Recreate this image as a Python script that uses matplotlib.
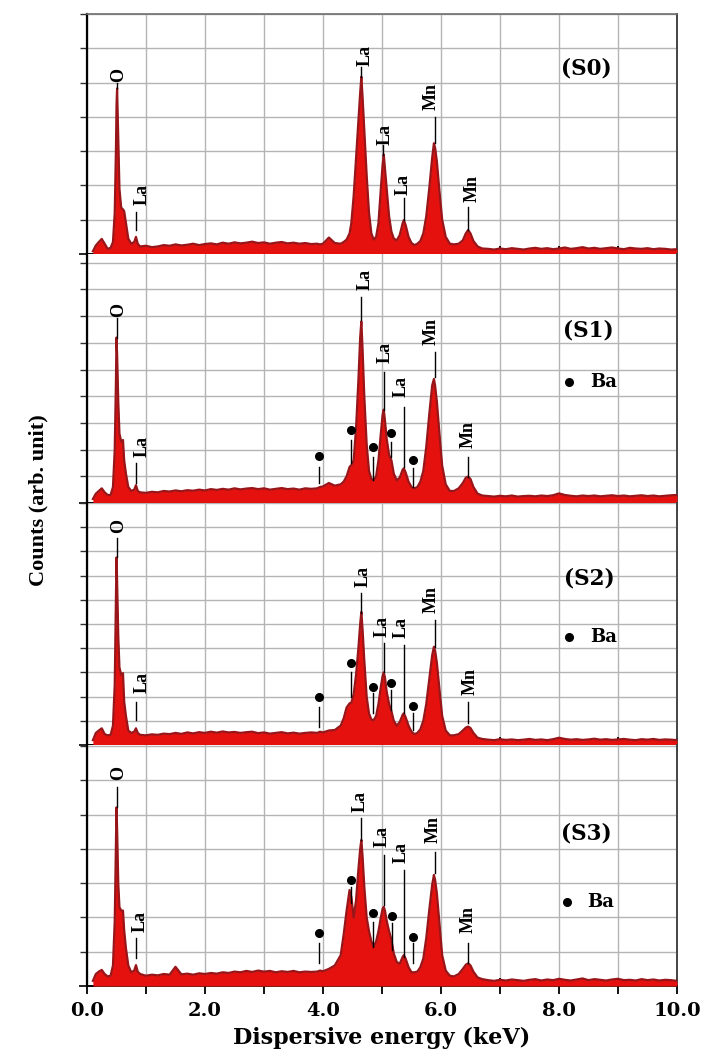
import matplotlib
matplotlib.use("Agg")
import matplotlib.pyplot as plt
from matplotlib.ticker import FixedLocator, FixedFormatter, NullFormatter

# ---------------- data ----------------
energy_keV = [
    0.10, 0.15, 0.20, 0.25, 0.30, 0.35, 0.40, 0.44, 0.47, 0.49, 0.50, 0.51,
    0.53, 0.55, 0.58, 0.61, 0.63, 0.66, 0.70, 0.75, 0.80, 0.83, 0.86, 0.90,
    1.0, 1.1, 1.2, 1.3, 1.4, 1.5, 1.6, 1.7, 1.8, 1.9, 2.0, 2.1, 2.2, 2.3, 2.4,
    2.5, 2.6, 2.7, 2.8, 2.9, 3.0, 3.1, 3.2, 3.3, 3.4, 3.5, 3.6, 3.7, 3.8,
    3.9, 3.95, 4.0, 4.1, 4.2, 4.3,
    4.35, 4.40, 4.45, 4.48, 4.52, 4.56, 4.60, 4.63, 4.65, 4.67,
    4.70, 4.74, 4.78, 4.82, 4.86, 4.90, 4.94, 4.98, 5.01, 5.03,
    5.05, 5.08, 5.12, 5.16, 5.20, 5.25, 5.30, 5.35, 5.37, 5.40,
    5.45, 5.50, 5.55, 5.60, 5.65, 5.70, 5.75, 5.80, 5.85, 5.88,
    5.90, 5.93, 5.97, 6.02, 6.08, 6.15, 6.22, 6.30, 6.37, 6.42,
    6.46, 6.50, 6.55, 6.62, 6.70,
    6.8, 6.9, 7.0, 7.1, 7.2, 7.3, 7.4, 7.5, 7.6, 7.7, 7.8, 7.9, 8.0, 8.1,
    8.2, 8.3, 8.4, 8.5, 8.6, 8.7, 8.8, 8.9, 9.0, 9.1, 9.2, 9.3, 9.4, 9.5,
    9.6, 9.7, 9.8, 9.9, 10.0,
]

counts_S0 = [
    0.08, 0.25, 0.35, 0.44, 0.30, 0.15, 0.18, 0.35, 1.20, 3.00, 4.30, 4.83,
    3.40, 1.90, 1.35, 1.30, 1.25, 0.90, 0.45, 0.30, 0.35, 0.50, 0.30, 0.22,
    0.24, 0.20, 0.22, 0.26, 0.24, 0.28, 0.25, 0.27, 0.30, 0.26, 0.29, 0.31, 0.28,
    0.33, 0.30, 0.34, 0.31, 0.33, 0.36, 0.32, 0.34, 0.30, 0.33, 0.35, 0.31, 0.33,
    0.30, 0.32, 0.29,
    0.30, 0.28, 0.30, 0.48, 0.32, 0.30,
    0.35, 0.42, 0.60, 0.90, 1.70, 2.80, 3.90, 4.70, 5.17, 4.60,
    3.60, 2.30, 1.20, 0.60, 0.42, 0.50, 0.90, 1.90, 2.60, 2.90,
    2.50, 1.90, 1.10, 0.65, 0.45, 0.40, 0.55, 0.90, 0.99, 0.85,
    0.50, 0.32, 0.26, 0.30, 0.38, 0.60, 1.10, 1.90, 2.80, 3.23,
    3.10, 2.70, 1.90, 1.00, 0.50, 0.30, 0.28, 0.30, 0.40, 0.60,
    0.70, 0.60, 0.38, 0.22, 0.16,
    0.15, 0.13, 0.16, 0.14, 0.17, 0.15, 0.13, 0.16, 0.18, 0.15, 0.17, 0.14,
    0.16, 0.19, 0.15, 0.17, 0.20, 0.16, 0.18, 0.15, 0.17, 0.19, 0.16, 0.14,
    0.18, 0.16, 0.15, 0.17, 0.14, 0.16, 0.15, 0.13, 0.14,
]

counts_S1 = [
    0.15, 0.35, 0.45, 0.55, 0.40, 0.30, 0.30, 0.60, 2.00, 4.50, 6.20, 5.60,
    3.80, 2.60, 2.30, 2.36, 1.60, 1.10, 0.60, 0.45, 0.50, 0.67, 0.45, 0.40,
    0.38, 0.42, 0.40, 0.45, 0.43, 0.47, 0.44, 0.48, 0.46, 0.50, 0.47, 0.52, 0.49,
    0.53, 0.50, 0.55, 0.51, 0.54, 0.56, 0.52, 0.55, 0.50, 0.53, 0.56, 0.52, 0.54,
    0.50, 0.55, 0.53,
    0.55, 0.60, 0.62, 0.75, 0.65, 0.70,
    0.80, 1.00, 1.35, 1.42, 1.60, 2.80, 4.60, 6.20, 6.80, 5.80,
    4.00, 2.20, 1.20, 0.90, 0.86, 1.00, 1.60, 2.60, 3.30, 3.50,
    3.10, 2.40, 1.80, 1.60, 1.10, 0.85, 0.95, 1.25, 1.30, 1.15,
    0.80, 0.60, 0.55, 0.60, 0.80, 1.20, 2.10, 3.30, 4.40, 4.65,
    4.40, 3.80, 2.70, 1.40, 0.70, 0.45, 0.45, 0.55, 0.75, 0.95,
    0.99, 0.90, 0.60, 0.35, 0.28,
    0.26, 0.24, 0.27, 0.25, 0.28, 0.24, 0.26, 0.27, 0.25, 0.28, 0.26, 0.29,
    0.36, 0.30, 0.27, 0.25, 0.28, 0.26, 0.28, 0.25, 0.27, 0.29, 0.26, 0.28,
    0.25, 0.27, 0.29, 0.26, 0.28, 0.25, 0.27, 0.29, 0.30,
]

counts_S2 = [
    0.20, 0.50, 0.60, 0.69, 0.45, 0.40, 0.42, 0.80, 2.50, 5.80, 7.75, 6.80,
    4.50, 3.20, 2.90, 2.97, 1.80, 1.20, 0.60, 0.50, 0.55, 0.69, 0.50, 0.42,
    0.40, 0.44, 0.42, 0.47, 0.45, 0.50, 0.46, 0.52, 0.48, 0.53, 0.50, 0.55, 0.51,
    0.56, 0.52, 0.54, 0.50, 0.53, 0.55, 0.49, 0.52, 0.47, 0.50, 0.53, 0.48, 0.51,
    0.47, 0.50, 0.52,
    0.50, 0.55, 0.52, 0.60, 0.62, 0.80,
    1.10, 1.55, 1.72, 1.75, 2.10, 2.90, 4.00, 5.00, 5.50, 4.80,
    3.50, 2.00, 1.30, 1.05, 1.03, 1.20, 1.70, 2.40, 2.85, 3.00,
    2.80, 2.20, 1.70, 1.40, 1.00, 0.80, 0.95, 1.25, 1.31, 1.15,
    0.80, 0.55, 0.45, 0.50, 0.65, 1.00, 1.70, 2.70, 3.70, 4.06,
    3.90, 3.40, 2.40, 1.20, 0.60, 0.40, 0.40, 0.45, 0.60, 0.72,
    0.76, 0.70, 0.50, 0.30, 0.25,
    0.22, 0.20, 0.24, 0.21, 0.23, 0.20, 0.22, 0.25, 0.21, 0.23, 0.20, 0.24,
    0.30, 0.25, 0.22, 0.24, 0.21, 0.23, 0.26, 0.22, 0.24, 0.21, 0.23, 0.25,
    0.22, 0.20, 0.24, 0.22, 0.25, 0.21, 0.23, 0.22, 0.20,
]

counts_S3 = [
    0.15, 0.35, 0.42, 0.47, 0.35, 0.28, 0.30, 0.60, 1.90, 4.00, 5.21, 4.60,
    3.00, 2.30, 2.20, 2.20, 1.63, 1.10, 0.60, 0.40, 0.45, 0.61, 0.42, 0.35,
    0.30, 0.33, 0.31, 0.35, 0.33, 0.56, 0.34, 0.36, 0.33, 0.37, 0.35, 0.38, 0.36,
    0.40, 0.38, 0.42, 0.40, 0.44, 0.41, 0.45, 0.42, 0.44, 0.40, 0.43, 0.41, 0.44,
    0.40, 0.42, 0.41,
    0.42, 0.45, 0.43, 0.50, 0.60, 0.90,
    1.50, 2.20, 2.80, 2.60, 2.00, 2.50, 3.40, 4.00, 4.26, 3.80,
    2.90, 2.00, 1.60, 1.30, 1.15, 1.30, 1.60, 2.00, 2.25, 2.31,
    2.20, 1.90, 1.60, 1.35, 0.95, 0.70, 0.65, 0.85, 0.90, 0.80,
    0.55, 0.40, 0.40, 0.42, 0.55, 0.80, 1.40, 2.20, 2.95, 3.24,
    3.10, 2.70, 1.90, 0.90, 0.45, 0.30, 0.28, 0.35, 0.50, 0.62,
    0.66, 0.60, 0.42, 0.25, 0.20,
    0.17, 0.15, 0.18, 0.16, 0.19, 0.17, 0.15, 0.18, 0.20, 0.16, 0.19, 0.17,
    0.21, 0.18, 0.16, 0.19, 0.22, 0.17, 0.20, 0.18, 0.16, 0.19, 0.21, 0.17,
    0.18, 0.16, 0.20, 0.17, 0.19, 0.16, 0.18, 0.17, 0.15,
]

sample_names = ["(S0)", "(S1)", "(S2)", "(S3)"]
spectra = [counts_S0, counts_S1, counts_S2, counts_S3]
for s in spectra:
    assert len(s) == len(energy_keV)

x_tick_values = [0, 1, 2, 3, 4, 5, 6, 7, 8, 9, 10]
x_tick_labels = ["0.0", "", "2.0", "", "4.0", "", "6.0", "", "8.0", "", "10.0"]

# ---------------- layout (pixel geometry) ----------------
W, H = 708, 1050
X0, X1 = 87, 677
panel_px = [(14, 254, 7.0), (254, 503, 9.33), (503, 745, 10.0), (745, 986, 7.03)]

# peak labels: (text, E_line, y_line0, y_line1, E_text, y_text_bottom)
peak_ann = [
    [("O", 0.51, 4.83, 5.0, 0.53, 5.03),
     ("La", 0.83, 0.70, 1.23, 0.93, 1.43),
     ("La", 4.65, 5.17, 5.46, 4.71, 5.47),
     ("La", 5.02, 2.89, 3.18, 5.05, 3.18),
     ("La", 5.37, 0.99, 1.63, 5.36, 1.72),
     ("Mn", 5.89, 3.23, 4.00, 5.84, 4.20),
     ("Mn", 6.45, 0.70, 1.38, 6.52, 1.52)],
    [("O", 0.50, 6.20, 6.93, 0.53, 6.98),
     ("La", 0.83, 0.75, 1.50, 0.93, 1.73),
     ("La", 4.65, 6.85, 7.73, 4.71, 7.98),
     ("La", 5.03, 3.48, 4.92, 5.05, 5.24),
     ("La", 5.37, 1.36, 3.61, 5.33, 3.98),
     ("Mn", 5.89, 4.73, 5.67, 5.84, 5.92),
     ("Mn", 6.46, 0.99, 1.73, 6.46, 2.05)],
    [("O", 0.50, 7.77, 8.55, 0.53, 8.75),
     ("La", 0.83, 1.03, 1.79, 0.93, 2.14),
     ("La", 4.65, 5.47, 6.28, 4.68, 6.54),
     ("La", 5.03, 3.03, 4.21, 5.00, 4.48),
     ("La", 5.37, 1.31, 4.13, 5.33, 4.42),
     ("Mn", 5.89, 4.06, 5.17, 5.84, 5.44),
     ("Mn", 6.46, 0.90, 1.79, 6.49, 2.07)],
    [("O", 0.50, 5.21, 5.81, 0.54, 6.00),
     ("La", 0.83, 0.82, 1.40, 0.90, 1.58),
     ("La", 4.65, 4.26, 4.90, 4.63, 5.08),
     ("La", 5.03, 2.36, 3.82, 5.00, 4.06),
     ("La", 5.37, 0.85, 3.38, 5.33, 3.59),
     ("Mn", 5.89, 3.29, 3.92, 5.87, 4.16),
     ("Mn", 6.46, 0.66, 1.24, 6.46, 1.54)],
]

# Ba markers: (E, y_dot, y_line0, y_line1)
ba_marks = [
    [],
    [(3.94, 1.77, 0.75, 1.36), (4.47, 2.73, 1.50, 2.36), (4.84, 2.11, 0.86, 1.73),
     (5.16, 2.63, 1.73, 2.30), (5.53, 1.61, 0.61, 1.31)],
    [(3.94, 2.00, 0.76, 1.58), (4.47, 3.38, 2.00, 3.03), (4.84, 2.41, 1.31, 2.14),
     (5.16, 2.55, 1.45, 2.27), (5.53, 1.61, 0.62, 1.32)],
    [(3.94, 1.54, 0.66, 1.24), (4.47, 3.09, 2.42, 2.90), (4.84, 2.12, 1.15, 1.87),
     (5.17, 2.04, 1.05, 1.84), (5.53, 1.42, 0.66, 1.24)],
]
# sample tag position (E, y) and Ba legend (E_dot, y, E_text)
tag_pos = [(8.47, 5.41), (8.50, 6.48), (8.51, 6.89), (8.47, 4.45)]
ba_leg = [None, (8.17, 4.52, 8.75), (8.17, 4.48, 8.75), (8.14, 2.44, 8.70)]

SERIF = ["Liberation Serif", "DejaVu Serif"]
WIDE = ["DejaVu Serif"]
FILL = "#e5110e"
EDGE = "#98161a"
GRID = "#b4b4b4"

fig = plt.figure(figsize=(W / 100, H / 100), dpi=100)

axes = []
for i, (top, bot, ymax) in enumerate(panel_px):
    ax = fig.add_axes([X0 / W, 1 - bot / H, (X1 - X0) / W, (bot - top) / H])
    axes.append(ax)
    ax.set_xlim(0, 10)
    ax.set_ylim(0, ymax)

    ax.fill_between(energy_keV, 0, spectra[i], color=FILL, lw=0, zorder=3)
    ax.plot(energy_keV, spectra[i], color=EDGE, lw=1.6, zorder=4)

    # grid
    ax.xaxis.set_major_locator(FixedLocator(x_tick_values))
    ax.yaxis.set_major_locator(FixedLocator(list(range(1, int(ymax) + 1))))
    ax.yaxis.set_minor_locator(FixedLocator([0]))
    ax.yaxis.set_major_formatter(NullFormatter())
    ax.grid(True, which="major", color=GRID, lw=1.0, zorder=0)
    ax.set_axisbelow(True)
    ax.tick_params(axis="y", which="major", direction="out", length=5, width=1.0,
                   color="#333333", left=True, right=False)
    ax.tick_params(axis="y", which="minor", direction="inout", length=12, width=1.2,
                   color="black")
    ax.tick_params(axis="x", which="major", direction="inout", length=11, width=1.3,
                   color="black", top=False, pad=6)

    if i == 3:
        ax.xaxis.set_major_formatter(FixedFormatter(x_tick_labels))
        for lab in ax.get_xticklabels():
            lab.set_family(WIDE)
            lab.set_fontweight("bold")
            lab.set_fontsize(14)
    else:
        ax.xaxis.set_major_formatter(NullFormatter())

    ax.spines["left"].set_color("black")
    ax.spines["left"].set_linewidth(1.6)
    ax.spines["right"].set_color("#444444")
    ax.spines["right"].set_linewidth(1.4)
    ax.spines["bottom"].set_color("black")
    ax.spines["bottom"].set_linewidth(1.2)
    if i == 0:
        ax.spines["top"].set_color("#6e6e6e")
        ax.spines["top"].set_linewidth(1.2)
    else:
        ax.spines["top"].set_visible(False)

    for (txt, el, y0, y1, et, yt) in peak_ann[i]:
        ax.plot([el, el], [y0, y1], color="black", lw=1.0, zorder=5)
        ax.text(et, yt, txt, rotation=90, ha="center", va="bottom",
                family=SERIF, fontweight="bold", fontsize=13, zorder=6)

    for (e, yd, y0, y1) in ba_marks[i]:
        ax.plot([e, e], [y0, y1], color="black", lw=1.0, zorder=5)
        ax.plot([e], [yd], "o", color="black", ms=5.5, zorder=6)

    te, ty = tag_pos[i]
    ax.text(te, ty, sample_names[i], ha="center", va="center", family=WIDE,
            fontweight="bold", fontsize=15.5, zorder=6)
    if ba_leg[i] is not None:
        de, dy, tx = ba_leg[i]
        ax.plot([de], [dy], "o", color="black", ms=5.5, zorder=6)
        ax.text(tx, dy, "Ba", ha="center", va="center", family=WIDE,
                fontweight="bold", fontsize=13, zorder=6)

axes[3].set_xlabel("Dispersive energy (keV)", family=WIDE, fontweight="bold",
                   fontsize=16, labelpad=5)
fig.text(38 / W, 1 - 500 / H, "Counts (arb. unit)", rotation=90, ha="center",
         va="center", family=SERIF, fontweight="bold", fontsize=16)

fig.savefig("out.png", dpi=100, facecolor="white")
